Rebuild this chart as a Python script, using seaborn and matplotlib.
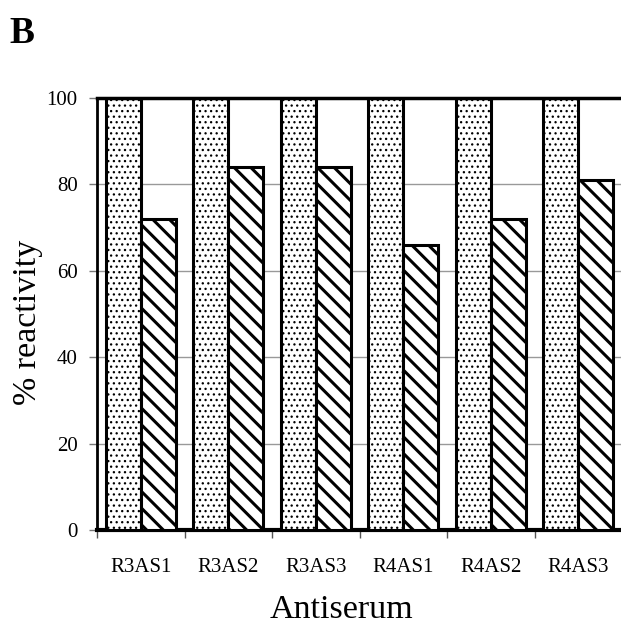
import matplotlib
matplotlib.use("Agg")
import matplotlib.pyplot as plt
import seaborn as sns
import pandas as pd

categories = ["R3AS1", "R3AS2", "R3AS3", "R4AS1", "R4AS2", "R4AS3"]
series_names = ["control", "treated"]
control_values = [100, 100, 100, 100, 100, 100]
treated_values = [72, 84, 84, 66, 72, 81]
y_ticks = [0, 20, 40, 60, 80, 100]

sns.set_theme(style="white")
plt.rcParams["font.family"] = ["Liberation Serif", "DejaVu Serif"]
plt.rcParams["text.color"] = "black"
plt.rcParams["axes.labelcolor"] = "black"
plt.rcParams["xtick.color"] = "black"
plt.rcParams["ytick.color"] = "black"
plt.rcParams["hatch.color"] = "black"
plt.rcParams["hatch.linewidth"] = 2.2

df = pd.DataFrame({
    "Antiserum": categories * 2,
    "series": [series_names[0]] * len(categories) + [series_names[1]] * len(categories),
    "value": control_values + treated_values,
})

fig = plt.figure(figsize=(6.21, 6.28), dpi=100)
ax = fig.add_axes([97 / 621, 98 / 628, 525 / 621, 432 / 628])

sns.barplot(data=df, x="Antiserum", y="value", hue="series", order=categories,
            hue_order=series_names, palette=["white", "white"], width=0.8,
            edgecolor="black", linewidth=2.2, legend=False, ax=ax, zorder=3)

n = len(categories)
for i, p in enumerate(ax.patches[: 2 * n]):
    if i < n:
        p.set_hatch("...")
        if hasattr(p, "set_hatch_linewidth"):
            p.set_hatch_linewidth(0.9)
    else:
        p.set_hatch("\\\\")
    p.set_edgecolor("black")
    p.set_zorder(3)

ax.set_xlim(-0.5, n - 0.5)
ax.set_ylim(0, 100)
ax.set_yticks(y_ticks)
ax.set_yticklabels([str(v) for v in y_ticks], fontsize=15)
ax.set_xticks(range(n))
ax.set_xticklabels(categories, fontsize=15)
ax.set_xticks([k - 0.5 for k in range(n + 1)], minor=True)
ax.tick_params(axis="x", which="major", length=0, pad=20)
ax.tick_params(axis="x", which="minor", length=6, width=1.0, color="#555555", direction="out", bottom=True)
ax.tick_params(axis="y", length=6, width=1.0, color="#777777", direction="out", left=True, pad=8)

for y in [20, 40, 60, 80]:
    ax.axhline(y, color="#999999", linewidth=1.0, zorder=1)

for s in ["left", "bottom", "top"]:
    ax.spines[s].set_visible(True)
    ax.spines[s].set_color("black")
ax.spines["left"].set_linewidth(2.0)
ax.spines["bottom"].set_linewidth(3.0)
ax.spines["top"].set_linewidth(2.5)
ax.spines["right"].set_visible(False)
ax.spines["top"].set_zorder(5)

ax.set_xlabel("Antiserum", fontsize=24.5)
ax.xaxis.set_label_coords((341 - 97) / 525, (530 - 595) / 432)
ax.set_ylabel("% reactivity", fontsize=24.5)
ax.yaxis.set_label_coords((43 - 97) / 525, (530 - 322) / 432)

fig.text(9 / 621, 1 - 43 / 628, "B", fontsize=27, fontweight="bold", va="baseline", ha="left")

fig.savefig("out.png", dpi=100)
